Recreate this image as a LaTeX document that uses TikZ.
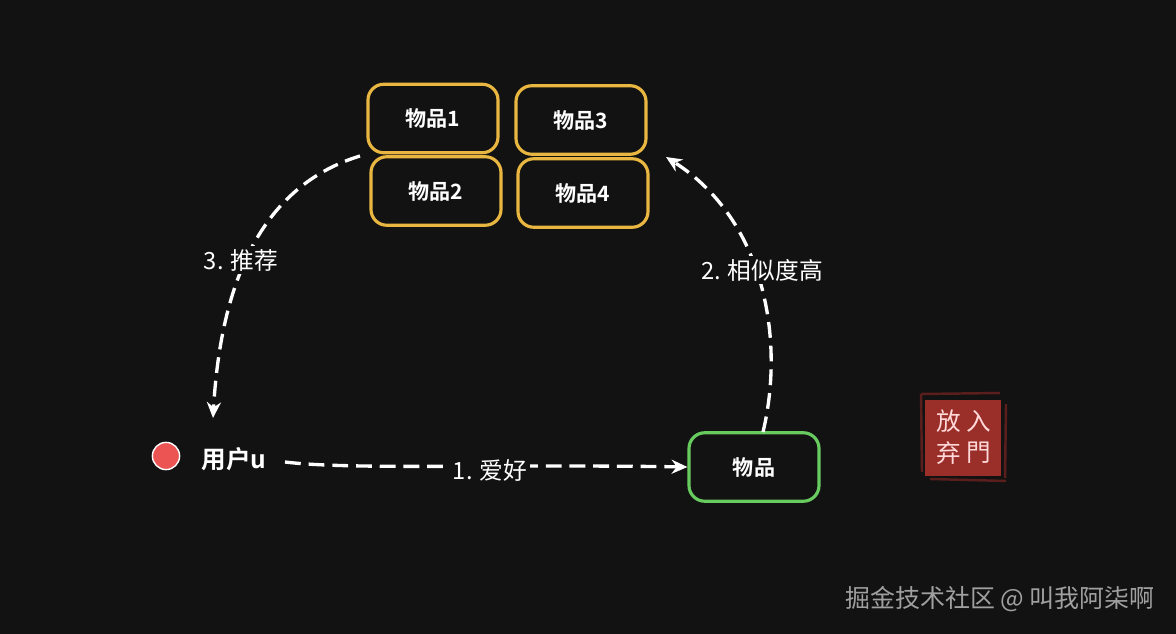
\documentclass[tikz,border=0pt]{standalone}
\usepackage{fontspec}
\setmainfont{Noto Sans CJK SC}
\newfontfamily\cjkbold{Noto Sans CJK SC Bold}
\usetikzlibrary{arrows.meta,positioning}
\definecolor{bgdark}{HTML}{121212}
\definecolor{itemyellow}{HTML}{E9B741}
\definecolor{itemgreen}{HTML}{67CB5F}
\definecolor{dotred}{HTML}{EC5454}
\definecolor{stampred}{HTML}{9A2E29}
\definecolor{stampedge}{HTML}{5A1F1C}
\definecolor{markgray}{HTML}{A0A0A0}
\tikzset{
  itembox/.style={draw=itemyellow,line width=1.8pt,rounded corners=9pt,minimum width=74pt,minimum height=39pt,text=white,font=\fontsize{12}{14}\cjkbold,inner sep=0pt},
  flow/.style={white,line width=1.9pt,dash pattern=on 9pt off 4.5pt,-{Stealth[length=9pt,width=8pt]}},
  flowlabel/.style={fill=bgdark,text=white,font=\fontsize{13.5}{15}\selectfont,inner sep=1.5pt},
  stampchar/.style={text=white!85!red,font=\fontsize{14}{16}\selectfont,inner sep=0pt}
}
\begin{document}
\begin{tikzpicture}[x=0.02cm,y=-0.02cm,every node/.style={font=\small}]
\useasboundingbox[fill=bgdark] (0,0) rectangle (1176,634);
\node[itembox] (item1) at (433,118.5) {物品1};
\node[itembox] (item2) at (436,191) {物品2};
\node[itembox] (item3) at (581,120) {物品3};
\node[itembox] (item4) at (583,193) {物品4};
\node[itembox,draw=itemgreen] (source) at (754,467) {物品};
\node[circle,draw=white,fill=dotred,line width=0.8pt,minimum size=15.5pt,inner sep=0pt] (userdot) at (166,456) {};
\node[text=white,font=\fontsize{14}{16}\cjkbold,inner sep=0pt] (user) at (234,459) {用户u};
\coordinate (likestart) at (285,462);
\coordinate (simstart) at (763,432);
\coordinate (simend) at (666,157);
\coordinate (recstart) at (360,156);
\coordinate (recend) at (213,418);
\draw[flow] (likestart) .. controls (350,470) and (500,464) .. (source.west);
\draw[flow] (simstart) .. controls (785,340) and (765,220) .. (simend);
\draw[flow] (recstart) .. controls (275,182) and (222,260) .. (recend);
\node[flowlabel] (likelabel) at (490,470) {1. 爱好};
\node[flowlabel] (simlabel) at (762,270) {2. 相似度高};
\node[flowlabel] (reclabel) at (241,260) {3. 推荐};
\draw[stampedge,line width=1.4pt] (921,394) -- (1000,393) (921,394) -- (922,472) (930,479) -- (1006,481) (1006,404) -- (1005,478);
\node[fill=stampred,minimum size=43pt,inner sep=0pt] (stamp) at (963,438) {};
\node[stampchar] (fang) at (949,421) {放};
\node[stampchar] (ru) at (979,421) {入};
\node[stampchar] (qi) at (949,453) {弃};
\node[stampchar] (men) at (979,453) {門};
\node[text=markgray,font=\fontsize{14.2}{16}\selectfont,inner sep=0pt,anchor=east] (mark) at (1155,599) {掘金技术社区 @ 叫我阿柒啊};
\end{tikzpicture}
\end{document}
